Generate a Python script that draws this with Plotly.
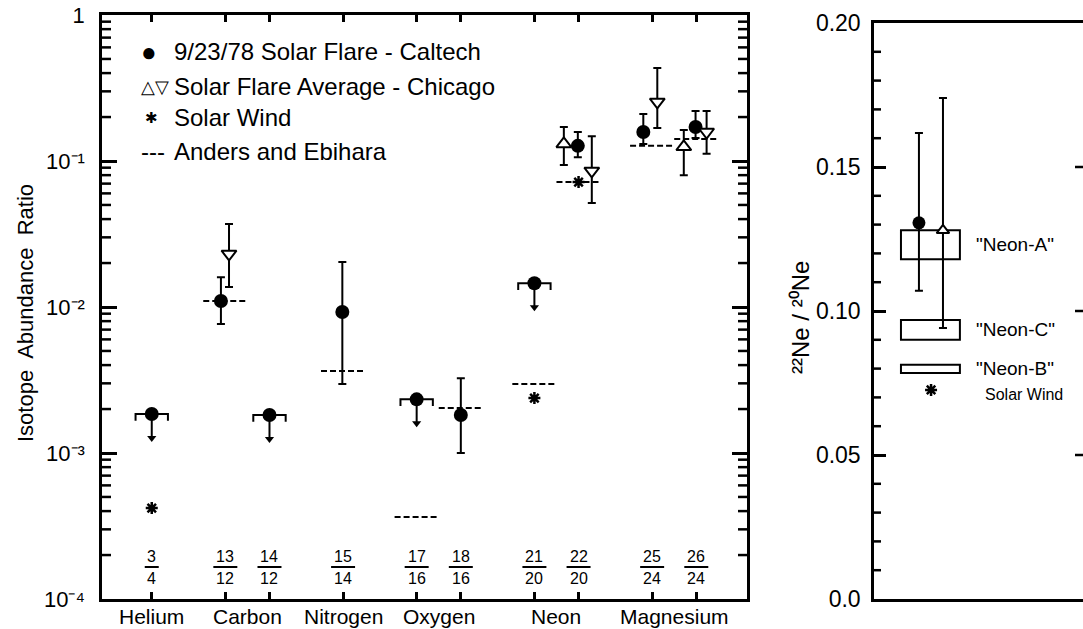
import math
import plotly.graph_objects as go

# ---------------- data ----------------
ratio_num = ["3", "13", "14", "15", "17", "18", "21", "22", "25", "26"]
ratio_den = ["4", "12", "12", "14", "16", "16", "20", "20", "24", "24"]
ratio_pos = [0.8, 1.8, 2.4, 3.4, 4.4, 5.0, 6.0, 6.6, 7.6, 8.2]
elements = ["Helium", "Carbon", "Nitrogen", "Oxygen", "Neon", "Magnesium"]
element_ratios = [[0], [1, 2], [3], [4, 5], [6, 7], [8, 9]]

# 9/23/78 Solar Flare - Caltech (measured)
caltech_x = [1.74, 3.39, 5.0, 6.59, 7.48, 8.19]
caltech_y = [0.0110, 0.00925, 0.00182, 0.127, 0.158, 0.171]
caltech_hi = [0.0160, 0.0203, 0.00325, 0.158, 0.210, 0.220]
caltech_lo = [0.00765, 0.00297, 0.00100, 0.106, 0.131, 0.144]
# Caltech upper limits
caltech_ul_x = [0.8, 2.4, 4.4, 6.0]
caltech_ul_y = [0.00185, 0.00182, 0.00233, 0.01453]

# Solar Flare Average - Chicago
chicago_up_x = [6.40, 8.03]
chicago_up_y = [0.131, 0.125]
chicago_up_hi = [0.171, 0.163]
chicago_up_lo = [0.094, 0.080]
chicago_dn_x = [1.85, 6.78, 7.67, 8.34]
chicago_dn_y = [0.0231, 0.0855, 0.254, 0.158]
chicago_dn_hi = [0.037, 0.148, 0.434, 0.220]
chicago_dn_lo = [0.0137, 0.0516, 0.168, 0.112]

# Solar wind
wind_x = [0.8, 6.0, 6.6]
wind_y = [0.00042, 0.00238, 0.0718]

# Anders and Ebihara
anders_x = [1.8, 3.4, 4.4, 5.0, 6.0, 6.6, 7.6, 8.2]
anders_y = [0.0110, 0.00365, 0.000365, 0.00203, 0.00297, 0.0718, 0.127, 0.1415]

# Right panel: 22Ne/20Ne
neon_names = ['"Neon-A"', '"Neon-C"', '"Neon-B"']
neon_lo = [0.118, 0.090, 0.0785]
neon_hi = [0.128, 0.0969, 0.0813]
ne_caltech = [0.1306]
ne_caltech_hi = [0.1618]
ne_caltech_lo = [0.107]
ne_chicago = [0.128]
ne_chicago_hi = [0.174]
ne_chicago_lo = [0.0941]
ne_wind = [0.0726]

# tick labels
ydec = [1e-4, 1e-3, 1e-2, 1e-1, 1]
ydec_text = ["10⁻⁴", "10⁻³", "10⁻²", "10⁻¹", "1"]
yr_vals = [0, 0.05, 0.10, 0.15, 0.20]
yr_text = ["0.0", "0.05", "0.10", "0.15", "0.20"]

# ---------------- styling ----------------
FONT = "Liberation Sans"
BLACK = "black"
W, H = 1083, 629
PX_PER_UNIT = 73.6  # left panel x scale (px per data unit), used for text decorations
L_X0, L_X1, L_Y0, L_Y1 = 102, 747, 15, 599   # left plot area (px)
R_X0, R_Y0, R_Y1 = 874, 23, 599               # right plot area (px)

fig = go.Figure()

# Anders and Ebihara dashed segments
ax_, ay_ = [], []
for x, y in zip(anders_x, anders_y):
    ax_ += [x - 0.3, x + 0.3, None]
    ay_ += [y, y, None]
fig.add_trace(go.Scatter(x=ax_, y=ay_, mode="lines",
                         line=dict(color=BLACK, width=2, dash="6px,3px"),
                         xaxis="x", yaxis="y", hoverinfo="skip"))

# Upper-limit brackets and arrows
bx, by = [], []
tip = 10 ** (-24 / 146)
for x, y in zip(caltech_ul_x, caltech_ul_y):
    bx += [x - 0.22, x - 0.22, x + 0.22, x + 0.22, None, x, x, None]
    by += [y * 0.9, y, y, y * 0.9, None, y, y * tip, None]
fig.add_trace(go.Scatter(x=bx, y=by, mode="lines",
                         line=dict(color=BLACK, width=2),
                         xaxis="x", yaxis="y", hoverinfo="skip"))
fig.add_trace(go.Scatter(x=caltech_ul_x, y=[v * tip for v in caltech_ul_y],
                         mode="markers",
                         marker=dict(symbol="triangle-down", size=8, color=BLACK),
                         xaxis="x", yaxis="y"))
fig.add_trace(go.Scatter(x=caltech_ul_x, y=caltech_ul_y, mode="markers",
                         marker=dict(symbol="circle", size=14, color=BLACK),
                         xaxis="x", yaxis="y"))

def err(vals, hi, lo):
    return dict(type="data", symmetric=False,
                array=[h - v for v, h in zip(vals, hi)],
                arrayminus=[v - l for v, l in zip(vals, lo)],
                color=BLACK, thickness=2, width=4)

fig.add_trace(go.Scatter(x=caltech_x, y=caltech_y, mode="markers",
                         error_y=err(caltech_y, caltech_hi, caltech_lo),
                         marker=dict(symbol="circle", size=14, color=BLACK),
                         xaxis="x", yaxis="y"))
fig.add_trace(go.Scatter(x=chicago_up_x, y=chicago_up_y, mode="markers",
                         error_y=err(chicago_up_y, chicago_up_hi, chicago_up_lo),
                         marker=dict(symbol="triangle-up", size=13, color="white",
                                     line=dict(color=BLACK, width=2)),
                         xaxis="x", yaxis="y"))
fig.add_trace(go.Scatter(x=chicago_dn_x, y=chicago_dn_y, mode="markers",
                         error_y=err(chicago_dn_y, chicago_dn_hi, chicago_dn_lo),
                         marker=dict(symbol="triangle-down", size=13, color="white",
                                     line=dict(color=BLACK, width=2)),
                         xaxis="x", yaxis="y"))
fig.add_trace(go.Scatter(x=wind_x, y=wind_y, mode="markers",
                         marker=dict(symbol="asterisk-open", size=10, color=BLACK,
                                     line=dict(color=BLACK, width=2.5)),
                         xaxis="x", yaxis="y"))

# ---------------- right panel ----------------
box_x0, box_x1 = 0.129, 0.411
shapes = []
for lo, hi in zip(neon_lo, neon_hi):
    shapes.append(dict(type="rect", xref="x2", yref="y2", x0=box_x0, x1=box_x1,
                       y0=lo, y1=hi, line=dict(color=BLACK, width=2),
                       fillcolor="rgba(0,0,0,0)", layer="below"))

fig.add_trace(go.Scatter(x=[0.215], y=ne_caltech, mode="markers",
                         error_y=err(ne_caltech, ne_caltech_hi, ne_caltech_lo),
                         marker=dict(symbol="circle", size=13, color=BLACK),
                         xaxis="x2", yaxis="y2"))
fig.add_trace(go.Scatter(x=[0.273], y=ne_wind, mode="markers",
                         marker=dict(symbol="asterisk-open", size=10, color=BLACK,
                                     line=dict(color=BLACK, width=2.5)),
                         xaxis="x2", yaxis="y2"))
fig.add_trace(go.Scatter(x=[0.33], y=ne_chicago, mode="markers",
                         error_y=err(ne_chicago, ne_chicago_hi, ne_chicago_lo),
                         marker=dict(symbol="triangle-up", size=11, color="white",
                                     line=dict(color=BLACK, width=2)),
                         xaxis="x2", yaxis="y2"))

# ---------------- minor tick marks (axis decoration) ----------------
ydom_l = [(H - L_Y1) / H, (H - L_Y0) / H]
ydom_r = [(H - R_Y1) / H, (H - R_Y0) / H]
tick_line = dict(color=BLACK, width=2.5)
for e in range(-4, 0):
    for m in range(2, 10):
        py = ydom_l[0] + (math.log10(m) + e + 4) / 4 * (ydom_l[1] - ydom_l[0])
        shapes.append(dict(type="line", xref="paper", yref="paper", layer="above",
                           x0=L_X0 / W, x1=(L_X0 + 9) / W, y0=py, y1=py,
                           line=dict(tick_line)))
        shapes.append(dict(type="line", xref="paper", yref="paper", layer="above",
                           x0=(L_X1 - 9) / W, x1=L_X1 / W, y0=py, y1=py,
                           line=dict(tick_line)))
for k in range(1, 20):
    if k % 5:
        shapes.append(dict(type="line", xref="x2 domain", yref="y2", layer="above",
                           x0=0, x1=7 / (W - R_X0), y0=k / 100, y1=k / 100,
                           line=dict(tick_line)))
for v in yr_vals[1:-1]:
    shapes.append(dict(type="line", xref="x2 domain", yref="y2", layer="above",
                       x0=1 - 8 / (W - R_X0), x1=1, y0=v, y1=v, line=dict(tick_line)))

# ---------------- annotations ----------------
ann = []
for x, n, d in zip(ratio_pos, ratio_num, ratio_den):
    ann.append(dict(x=x, y=(H - 556) / H, xref="x", yref="paper", text=n,
                    showarrow=False, font=dict(family=FONT, size=16, color=BLACK),
                    xanchor="center", yanchor="middle"))
    ann.append(dict(x=x, y=(H - 578) / H, xref="x", yref="paper", text=d,
                    showarrow=False, font=dict(family=FONT, size=16, color=BLACK),
                    xanchor="center", yanchor="middle"))
    half = (2 + 5.0 * max(len(n), len(d))) / PX_PER_UNIT
    shapes.append(dict(type="line", xref="x", yref="paper", x0=x - half, x1=x + half,
                       y0=(H - 567) / H, y1=(H - 567) / H,
                       line=dict(color=BLACK, width=2)))
for name, members in zip(elements, element_ratios):
    xc = sum(ratio_pos[i] for i in members) / len(members)
    ann.append(dict(x=xc, y=(H - 616) / H, xref="x", yref="paper", text=name,
                    showarrow=False, font=dict(family=FONT, size=21, color=BLACK),
                    xanchor="center", yanchor="middle"))
ann.append(dict(x=25 / W, y=(H - 313) / H, xref="paper", yref="paper",
                text="Isotope  Abundance  Ratio", textangle=-90, showarrow=False,
                font=dict(family=FONT, size=22, color=BLACK),
                xanchor="center", yanchor="middle"))
leg_rows = [
    ("●", 149, 52, 26, "9/23/78 Solar Flare - Caltech"),
    ("△▽", 155, 87, 18, "Solar Flare Average - Chicago"),
    ("✱", 151, 118, 15, "Solar Wind"),
    ("---", 153, 152, 24, "Anders and Ebihara"),
]
for sym, sx, sy, ss, label in leg_rows:
    ann.append(dict(x=sx / W, y=(H - sy) / H, xref="paper", yref="paper", text=sym,
                    showarrow=False, font=dict(family=FONT, size=ss, color=BLACK),
                    xanchor="center", yanchor="middle"))
    ann.append(dict(x=172 / W, y=(H - sy) / H, xref="paper", yref="paper", text=label,
                    showarrow=False, font=dict(family=FONT, size=24, color=BLACK),
                    xanchor="left", yanchor="middle"))
for name, lo, hi in zip(neon_names, neon_lo, neon_hi):
    ann.append(dict(x=0.48, y=(lo + hi) / 2, xref="x2", yref="y2", text=name,
                    showarrow=False, font=dict(family=FONT, size=19, color=BLACK),
                    xanchor="left", yanchor="middle"))
ann.append(dict(x=0.52, y=ne_wind[0], xref="x2", yref="y2", text="Solar Wind",
                showarrow=False, font=dict(family=FONT, size=16, color=BLACK),
                xanchor="left", yanchor="middle", yshift=-5))
ann.append(dict(x=800 / W, y=(H - 318) / H, xref="paper", yref="paper",
                text="²²Ne / ²⁰Ne", textangle=-90, showarrow=False,
                font=dict(family=FONT, size=24, color=BLACK),
                xanchor="center", yanchor="middle"))

tick_common = dict(tickcolor=BLACK, tickwidth=2.5, showgrid=False, zeroline=False,
                   automargin=False)

fig.update_layout(
    template="none",
    width=W, height=H, autosize=False,
    margin=dict(l=0, r=0, t=0, b=0, pad=0, autoexpand=False),
    paper_bgcolor="white", plot_bgcolor="white",
    showlegend=False,
    font=dict(family=FONT, color=BLACK),
    xaxis=dict(domain=[L_X0 / W, L_X1 / W], range=[0.124, 8.889],
               tickmode="array", tickvals=ratio_pos, showticklabels=False,
               ticks="inside", ticklen=7,
               showline=True, linewidth=2.5, linecolor=BLACK, mirror="ticks",
               anchor="y", **tick_common),
    yaxis=dict(domain=ydom_l, type="log", range=[-4, 0],
               tickmode="array", tickvals=ydec, ticktext=ydec_text,
               ticks="inside", ticklen=15,
               showline=True, linewidth=2.5, linecolor=BLACK, mirror="ticks",
               anchor="x", ticklabelstandoff=10,
               tickfont=dict(family=FONT, size=22, color=BLACK), **tick_common),
    xaxis2=dict(domain=[R_X0 / W, 1.0], range=[0, 1], showticklabels=False,
                ticks="", showline=True, linewidth=2.5, linecolor=BLACK, mirror=True,
                showgrid=False, zeroline=False, automargin=False, anchor="y2"),
    yaxis2=dict(domain=ydom_r, range=[0, 0.2],
                tickmode="array", tickvals=yr_vals, ticktext=yr_text,
                ticks="inside", ticklen=12,
                showline=True, linewidth=2.5, linecolor=BLACK, mirror=False,
                anchor="x2", ticklabelstandoff=6,
                tickfont=dict(family=FONT, size=23, color=BLACK), **tick_common),
    shapes=shapes,
    annotations=ann,
)

fig.write_html("out.html",
               config={"displayModeBar": False},
               post_script="document.body.style.margin='0';"
                           "document.body.style.overflow='hidden';")
